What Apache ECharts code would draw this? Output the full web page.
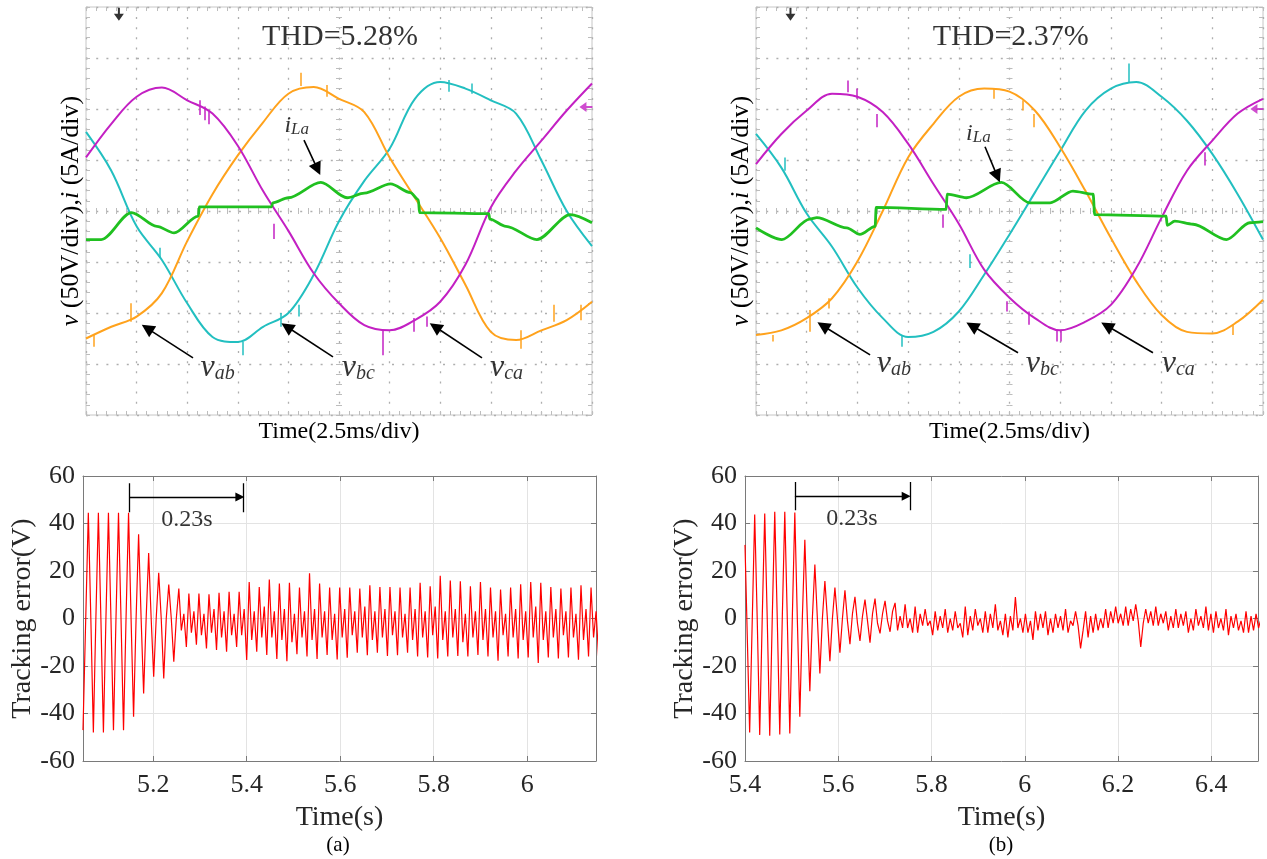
<!DOCTYPE html>
<html><head><meta charset="utf-8">
<script src="https://cdn.jsdelivr.net/npm/echarts@6/dist/echarts.min.js"></script>
<style>html,body{margin:0;padding:0;background:#fff}#c{width:1267px;height:859px}</style>
</head><body><div id="c"></div>
<script>
const FONT = 'Liberation Serif';

// ---------- Oscilloscope traces (units: divisions; x -5..5, y -4..4) ----------
const scopeX = [-5,-4.5,-4,-3.5,-3,-2.5,-2,-1.5,-1,-0.5,0,0.5,1,1.5,2,2.5,3,3.5,4,4.5,5];
// (a)
const magA = [1.05,1.71,2.24,2.42,2.17,1.91,1.28,0.39,-0.39,-1.22,-1.81,-2.24,-2.34,-2.14,-1.78,-1.05,0.07,0.79,1.38,1.97,2.5];
const orgA = [-2.5,-2.27,-2.07,-1.61,-0.59,0.33,1.09,1.74,2.3,2.43,2.2,1.94,1.05,0.26,-0.53,-1.45,-2.37,-2.53,-2.34,-2.14,-1.78];
const cynA = [1.55,0.79,-0.3,-0.96,-1.81,-2.47,-2.57,-2.27,-2.0,-1.25,-0.2,0.59,1.22,2.2,2.53,2.4,2.17,1.91,0.99,0.0,-0.69];
const grnA_x = [-5,-4.7,-4.1,-3.6,-3.26,-2.78,-2.76,-1.33,-1.31,-1.0,-0.36,0.16,0.5,1.02,1.41,1.57,1.59,2.96,2.98,3.3,3.91,4.57,5];
const grnA_y = [-0.56,-0.56,-0.03,-0.3,-0.43,-0.1,0.08,0.08,0.16,0.26,0.56,0.26,0.35,0.53,0.36,0.22,-0.03,-0.05,-0.16,-0.3,-0.56,-0.07,-0.23];
// (b)
const magB = [0.92,1.51,1.97,2.30,2.24,1.94,1.32,0.53,-0.25,-1.15,-1.7,-2.1,-2.34,-2.17,-1.84,-1.12,-0.13,0.79,1.38,1.91,2.2];
const orgB = [-2.43,-2.34,-2.1,-1.71,-0.99,0,1.05,1.71,2.24,2.4,2.34,1.97,1.25,0.39,-0.53,-1.38,-2.04,-2.37,-2.4,-2.17,-1.74];
const cynB = [1.51,0.85,-0.05,-0.7,-1.5,-2.1,-2.47,-2.37,-1.97,-1.25,-0.46,0.36,1.18,1.97,2.4,2.53,2.24,1.77,1.12,0.33,-0.56];
const grnB_x = [-5,-4.49,-3.94,-3.8,-3.21,-2.95,-2.65,-2.63,-1.25,-1.23,-0.85,-0.16,0.4,0.8,1.25,1.65,1.68,3.09,3.11,3.26,3.62,4.28,4.74,5];
const grnB_y = [-0.33,-0.56,-0.16,-0.13,-0.33,-0.46,-0.3,0.07,0.03,0.33,0.26,0.56,0.16,0.16,0.39,0.33,-0.07,-0.1,-0.28,-0.2,-0.26,-0.56,-0.23,-0.21];
// glitch spikes [x, yFrom, yTo]
const spikeA_mag = [[-2.76,2.17,1.88],[-2.66,2.05,1.78],[-2.57,1.95,1.7],[-1.28,-0.25,-0.55],[0.86,-2.34,-2.83],[1.48,-2.1,-2.37],[1.74,-2.07,-2.27]];
const spikeA_org = [[-4.84,-2.43,-2.66],[-4.12,-1.81,-2.17],[-0.76,2.45,2.71],[-0.24,2.47,2.24],[3.59,-2.34,-2.7],[4.24,-2.17,-1.84],[4.77,-2.14,-1.84]];
const spikeA_cyn = [[-3.55,-0.72,-0.92],[-1.91,-2.57,-2.83],[-1.15,-2.0,-2.27],[-0.79,-1.84,-2.07],[2.17,2.57,2.34],[2.63,2.5,2.3]];
const spikeB_mag = [[-3.2,2.33,2.56],[-3.02,2.4,2.2],[-2.62,1.9,1.64],[-1.31,-0.07,-0.33],[-0.06,-1.77,-1.97],[0.37,-1.97,-2.23],[0.93,-2.33,-2.56],[1.02,-2.33,-2.56],[3.85,1.15,0.89]];
const spikeB_org = [[-4.66,-2.43,-2.56],[-3.94,-1.94,-2.37],[-3.57,-1.71,-1.91],[-0.32,2.4,2.2],[0.27,2.17,1.97],[0.47,1.9,1.64],[4.41,-2.23,-2.43]];
const spikeB_cyn = [[-4.43,1.05,0.79],[-2.13,-2.43,-2.66],[-0.78,-0.85,-1.12],[2.36,2.53,2.89]];
// annotation arrows [[x1,y1],[x2,y2]] and label anchors (div units)
const arrowsA = [[[-2.885,-2.88],[-3.79,-2.30]],[[-0.119,-2.86],[-1.03,-2.27]],[[2.826,-2.88],[1.90,-2.27]],[[-0.692,1.39],[-0.425,0.82]]];
const arrowsB = [[[-2.75,-2.82],[-3.68,-2.25]],[[0.168,-2.78],[-0.74,-2.25]],[[2.83,-2.78],[1.92,-2.25]],[[-0.483,1.26],[-0.24,0.68]]];
const thdText = ['THD=5.28%','THD=2.37%'];
const labelPosA = {thd:[0.02,3.41], vab:[-2.40,-3.08], vbc:[0.38,-3.08], vca:[3.31,-3.08], ila:[-0.836,1.67]};
const labelPosB = {thd:[0.026,3.41], vab:[-2.28,-3.0], vbc:[0.647,-3.0], vca:[3.33,-3.0], ila:[-0.615,1.51]};
const markerA = {trig:[-4.35,3.86], ch:[4.88,2.04]};
const markerB = {trig:[-4.32,3.86], ch:[4.88,2.0]};

// ---------- Tracking error (V) vs time (s) ----------
// samples per oscillation cycle: peak, quarter, half, three-quarter
const errA_headT = [5.05], errA_headV = [-47];
const errA_t0 = 5.0614, errA_P = 0.0215;
const errA_peak = [44.5,44.5,44.5,44.5,44.5,35.5,27.6,19.2,14.3,12.6,10.5,10.5,10.2,10.8,11.2,11.2,15.4,13.3,16.4,14.7,15,13,19,14.7,13,13,13,12.6,14,13.3,13.3,13,13,15,13.6,18,16,15.7,13.6,15.4,13,12.2,13,14.4,15.4,15,13.3,12.6,13,14,13];
const errA_q1 = [0,0,0,0,0,0,0,0,0,-5,-6,-7,-6,-8,-7,-7,-9,-8,-8,-9,-10,-8,-9,-8,-9,-8,-7,-8,-9,-8,-7,-8,-9,-8,-7,-9,-8,-10,-8,-9,-8,-7,-8,-9,-8,-9,-8,-7,-8,-9,-8];
const errA_q2 = [-48,-48,-47,-47,-41.4,-31.6,-24.5,-25.2,-18.2,2,3,2,4,3,2,4,3,5,3,4,2,3,4,3,2,4,3,5,3,4,3,2,4,3,5,3,4,2,3,4,3,2,4,3,5,3,4,3,2,4,3];
const errA_q3 = [0,0,0,0,0,0,0,0,0,-12,-11,-12.6,-13.3,-14,-12,-17.5,-14,-15.4,-17,-18,-15,-16,-17,-15.4,-17.3,-16.5,-14.4,-15.5,-14.4,-15.8,-15.5,-14.4,-16,-16.4,-16.8,-16,-15.8,-16,-15.4,-16,-17.8,-16,-16.8,-16.4,-18.7,-16.4,-16.8,-16.4,-17.4,-16,-16];

const errB_headT = [5.4, 5.41], errB_headV = [31, -48];
const errB_t0 = 5.4208, errB_P = 0.0215;
const errB_peak = [43.8,44.2,44.9,44.9,44.6,33.2,22.7,15.8,13,11.9,9.1,8,8.4,7.4,6.6,6,5,4,3,4,3,5,4,3,6,2,9,2,3,3,2,4,3,3,2,4,5,5,6,4,5,3,4,3,4,5,3,4,2,3,2];
const errB_q1 = [0,0,0,0,0,0,0,0,0,-1,-2,-1,-2,-1,-5,-4,-6,-3,-5,-6,-4,-7,-3,-6,-5,-8,-4,-6,-5,-7,-4,-6,-3,-8,-5,-4,-2,-3,-1,-2,-3,-5,-4,-6,-3,-5,-4,-7,-5,-6,-4];
const errB_q2 = [-49,-49.4,-48.8,-48.4,-41.4,-30.6,-23.1,-18,-14.4,-10.8,-9.4,-10.2,-6.3,-5.6,1,0,2,-1,1,0,-2,1,0,2,-1,1,0,-1,2,0,1,-1,-12.6,1,0,3,2,4,-12,3,2,1,2,0,1,2,0,1,-1,1,0];
const errB_q3 = [0,0,0,0,0,0,0,0,0,2,1,2,2,3,-4,-6,-3,-7,-4,-5,-8,-5,-6,-4,-7,-5,-6,-9,-4,-6,-5,-3,-5,-6,-4,-2,-3,-1,-2,-3,-2,-4,-3,-5,-4,-6,-5,-4,-6,-5,-7];

// 0.23 s settling bracket: [tStart, tEnd, vTop, vBottom, vArrow], label anchor
const bracketA = [5.1486, 5.3935, 57, 44.7, 51.2], bracketLabelA = [5.272, 41.8];
const bracketB = [5.507, 5.7536, 57.5, 45.6, 51.5], bracketLabelB = [5.629, 42.2];
const errYTicks = {min:-60, max:60, interval:20};
const errXRangeA = [5.05, 6.147], errXRangeB = [5.4, 6.5];

// ---------- helpers ----------
const COL = {mag:'#c320c3', org:'#ffa21c', cyn:'#22bfc0', grn:'#20c020', red:'#ff0000'};
const tickC = '#bdbdbd', dotC = '#aeaeae', frameC = '#c6c6c6';
const axC = '#7a7a7a', gridC = '#e3e3e3', labC = '#262626';

const zip = (xs, ys) => xs.map((x, i) => [x, ys[i]]);
function buildErr(hT, hV, t0, P, pk, q1, q2, q3) {
  const d = zip(hT, hV);
  for (let k = 0; k < pk.length; k++) {
    d.push([t0 + k * P, pk[k]], [t0 + (k + 0.25) * P, q1[k]], [t0 + (k + 0.5) * P, q2[k]], [t0 + (k + 0.75) * P, q3[k]]);
  }
  return d;
}

function scopeXAxes(g, yIdx) {
  const ticks = (inside, len) => ({axisTick:{show:true, inside, length:len, lineStyle:{color:tickC}},
    minorTick:{show:true, splitNumber:5, length:len, lineStyle:{color:tickC}}});
  const base = {gridIndex:g, type:'value', min:-5, max:5, interval:1, axisLabel:{show:false}, splitLine:{show:false}};
  return [
    Object.assign({}, base, ticks(true,4), {position:'bottom', axisLine:{show:false,onZero:false},
      splitLine:{show:true, lineStyle:{color:dotC, type:[2,8.12], width:1.3}},
      name:'Time(2.5ms/div)', nameLocation:'middle', nameGap:5,
      nameTextStyle:{fontFamily:FONT, fontSize:24, color:'#000', verticalAlign:'top'}}),
    Object.assign({}, base, ticks(true,4), {position:'top', axisLine:{show:false,onZero:false}}),
    Object.assign({}, base, ticks(false,3), {position:'bottom', axisLine:{show:false,onZero:true,onZeroAxisIndex:yIdx}}),
    Object.assign({}, base, ticks(true,3), {position:'bottom', axisLine:{show:false,onZero:true,onZeroAxisIndex:yIdx}})
  ];
}
function scopeYAxes(g, xIdx) {
  const ticks = (inside, len) => ({axisTick:{show:true, inside, length:len, lineStyle:{color:tickC}},
    minorTick:{show:true, splitNumber:5, length:len, lineStyle:{color:tickC}}});
  const base = {gridIndex:g, type:'value', min:-4, max:4, interval:1, axisLabel:{show:false}, splitLine:{show:false}};
  return [
    Object.assign({}, base, ticks(true,4), {position:'left', axisLine:{show:false,onZero:false},
      splitLine:{show:true, lineStyle:{color:dotC, type:[2,8.2], width:1.3}},
      name:'{i|v} (50V/div),{i|i} (5A/div)', nameLocation:'middle', nameRotate:90, nameGap:2,
      nameTextStyle:{fontFamily:FONT, fontSize:26, color:'#000',
        rich:{i:{fontFamily:FONT, fontSize:26, fontStyle:'italic', color:'#000'}}}}),
    Object.assign({}, base, ticks(true,4), {position:'right', axisLine:{show:false,onZero:false}}),
    Object.assign({}, base, ticks(false,3), {position:'left', axisLine:{show:false,onZero:true,onZeroAxisIndex:xIdx}}),
    Object.assign({}, base, ticks(true,3), {position:'left', axisLine:{show:false,onZero:true,onZeroAxisIndex:xIdx}})
  ];
}
function errXAxes(g, range, showMin) {
  const common = {gridIndex:g, type:'value', min:range[0], max:range[1], splitNumber:5,
    axisLine:{show:true, onZero:false, lineStyle:{color:axC, width:1}},
    axisTick:{show:true, inside:true, length:5, lineStyle:{color:axC}}};
  return [
    Object.assign({}, common, {position:'bottom',
      axisLabel:{fontFamily:FONT, fontSize:26, color:labC, margin:11, showMinLabel:showMin, showMaxLabel:false},
      splitLine:{show:true, lineStyle:{color:gridC, width:1}},
      name:'Time(s)', nameLocation:'middle', nameGap:43,
      nameTextStyle:{fontFamily:FONT, fontSize:28, color:labC, verticalAlign:'top'}}),
    Object.assign({}, common, {position:'top', axisLabel:{show:false}, splitLine:{show:false}})
  ];
}
function errYAxes(g) {
  const common = Object.assign({gridIndex:g, type:'value'}, errYTicks, {
    axisLine:{show:true, onZero:false, lineStyle:{color:axC, width:1}},
    axisTick:{show:true, inside:true, length:5, lineStyle:{color:axC}}});
  return [
    Object.assign({}, common, {position:'left',
      axisLabel:{fontFamily:FONT, fontSize:26, color:labC, margin:8},
      splitLine:{show:true, lineStyle:{color:gridC, width:1}},
      name:'Tracking error(V)', nameLocation:'middle', nameRotate:90, nameGap:44,
      nameTextStyle:{fontFamily:FONT, fontSize:28, color:labC}}),
    Object.assign({}, common, {position:'right', axisLabel:{show:false}, splitLine:{show:false}})
  ];
}

const richV = {
  v:{fontFamily:FONT, fontStyle:'italic', fontSize:32, lineHeight:34, color:'#000'},
  s:{fontFamily:FONT, fontStyle:'italic', fontSize:20, lineHeight:22, padding:[12,0,0,0], color:'#000'}
};
const richI = {
  v:{fontFamily:FONT, fontStyle:'italic', fontSize:24, lineHeight:26, color:'#000'},
  s:{fontFamily:FONT, fontStyle:'italic', fontSize:17, lineHeight:18, padding:[8,0,0,0], color:'#000'}
};
const trigPath = 'path://M4,0 L6,0 L6,6 L10,6 L5,13 L0,6 L4,6 Z';
const chPath = 'path://M0,5 L7,0 L7,4 L13,4 L13,6 L7,6 L7,10 Z';

function scopeSeries(xi, yi, mag, org, cyn, gx, gy, sm, so, sc, arrows, lp, thd, mk) {
  const line = (data, color, w) => ({type:'line', xAxisIndex:xi, yAxisIndex:yi, data, symbol:'none',
    smooth:0.35, lineStyle:{color, width:w}, itemStyle:{color}, z:3, animation:false, silent:true});
  const spikes = (arr, color) => ({type:'lines', coordinateSystem:'cartesian2d', xAxisIndex:xi, yAxisIndex:yi,
    data:arr.map(s => ({coords:[[s[0], s[1]],[s[0], s[2]]]})), lineStyle:{color, width:1.5, opacity:1},
    symbol:'none', z:3, animation:false, silent:true});
  const lbl = (pos, fmt, rich) => ({value:pos, label:{show:true, position:'inside', formatter:fmt, rich}});
  return [
    line(zip(scopeX, cyn), COL.cyn, 2), spikes(sc, COL.cyn),
    line(zip(scopeX, org), COL.org, 2), spikes(so, COL.org),
    line(zip(scopeX, mag), COL.mag, 2), spikes(sm, COL.mag),
    Object.assign(line(zip(gx, gy), COL.grn, 2.8), {smooth:0.3, smoothMonotone:'x', z:4}),
    {type:'lines', coordinateSystem:'cartesian2d', xAxisIndex:xi, yAxisIndex:yi,
      data:arrows.map(a => ({coords:a})), symbol:['none','triangle'], symbolSize:13,
      lineStyle:{color:'#000', width:1.6, opacity:1}, z:6, animation:false, silent:true},
    {type:'scatter', xAxisIndex:xi, yAxisIndex:yi, symbolSize:1, itemStyle:{color:'rgba(0,0,0,0)'}, z:7,
      animation:false, silent:true,
      data:[
        {value:lp.thd, label:{show:true, position:'inside', formatter:thd, fontFamily:FONT, fontSize:30, color:'#000'}},
        lbl(lp.vab, '{v|v}{s|ab}', richV), lbl(lp.vbc, '{v|v}{s|bc}', richV),
        lbl(lp.vca, '{v|v}{s|ca}', richV), lbl(lp.ila, '{v|i}{s|La}', richI)
      ]},
    {type:'scatter', xAxisIndex:xi, yAxisIndex:yi, z:8, animation:false, silent:true,
      data:[
        {value:mk.trig, symbol:trigPath, symbolSize:[10,13], itemStyle:{color:'#000'}},
        {value:mk.ch, symbol:chPath, symbolSize:[13,10], itemStyle:{color:COL.mag}}
      ]}
  ];
}
function errSeries(xi, yi, data, br, bl) {
  return [
    {type:'line', xAxisIndex:xi, yAxisIndex:yi, data, symbol:'none', smooth:false,
      lineStyle:{color:COL.red, width:1.2}, itemStyle:{color:COL.red}, z:3, animation:false, silent:true},
    {type:'lines', coordinateSystem:'cartesian2d', xAxisIndex:xi, yAxisIndex:yi,
      data:[{coords:[[br[0],br[2]],[br[0],br[3]]]},{coords:[[br[1],br[2]],[br[1],br[3]]]}],
      symbol:'none', lineStyle:{color:'#000', width:1.3, opacity:1}, z:5, animation:false, silent:true},
    {type:'lines', coordinateSystem:'cartesian2d', xAxisIndex:xi, yAxisIndex:yi,
      data:[{coords:[[br[0],br[4]],[br[1]-0.008,br[4]]]}],
      symbol:['none','triangle'], symbolSize:9, lineStyle:{color:'#000', width:1.3, opacity:1}, z:5, animation:false, silent:true},
    {type:'scatter', xAxisIndex:xi, yAxisIndex:yi, symbolSize:1, itemStyle:{color:'rgba(0,0,0,0)'}, z:6,
      animation:false, silent:true,
      data:[{value:bl, label:{show:true, position:'inside', formatter:'0.23s', fontFamily:FONT, fontSize:24, color:'#000'}}]}
  ];
}

const option = {
  animation:false,
  backgroundColor:'#fff',
  textStyle:{fontFamily:FONT},
  grid:[
    {left:86, top:7, width:506, height:408, show:true, borderColor:frameC, borderWidth:1, backgroundColor:'transparent'},
    {left:756, top:7, width:507, height:408, show:true, borderColor:frameC, borderWidth:1, backgroundColor:'transparent'},
    {left:83, top:476, width:513, height:285},
    {left:745, top:476, width:513, height:285}
  ],
  xAxis:[...scopeXAxes(0,0), ...scopeXAxes(1,4), ...errXAxes(2, errXRangeA, false), ...errXAxes(3, errXRangeB, true)],
  yAxis:[...scopeYAxes(0,0), ...scopeYAxes(1,4), ...errYAxes(2), ...errYAxes(3)],
  graphic:[
    {type:'text', x:338, y:845, style:{text:'(a)', font:'21px "Liberation Serif"', fill:'#000', align:'center', verticalAlign:'middle', textAlign:'center', textVerticalAlign:'middle'}},
    {type:'text', x:1001, y:845, style:{text:'(b)', font:'21px "Liberation Serif"', fill:'#000', align:'center', verticalAlign:'middle', textAlign:'center', textVerticalAlign:'middle'}}
  ],
  series:[
    ...scopeSeries(0,0, magA, orgA, cynA, grnA_x, grnA_y, spikeA_mag, spikeA_org, spikeA_cyn, arrowsA, labelPosA, thdText[0], markerA),
    ...scopeSeries(4,4, magB, orgB, cynB, grnB_x, grnB_y, spikeB_mag, spikeB_org, spikeB_cyn, arrowsB, labelPosB, thdText[1], markerB),
    ...errSeries(8,8, buildErr(errA_headT, errA_headV, errA_t0, errA_P, errA_peak, errA_q1, errA_q2, errA_q3), bracketA, bracketLabelA),
    ...errSeries(10,10, buildErr(errB_headT, errB_headV, errB_t0, errB_P, errB_peak, errB_q1, errB_q2, errB_q3), bracketB, bracketLabelB)
  ]
};
const chart = echarts.init(document.getElementById('c'), null, {renderer:'canvas'});
chart.setOption(option);
</script></body></html>
